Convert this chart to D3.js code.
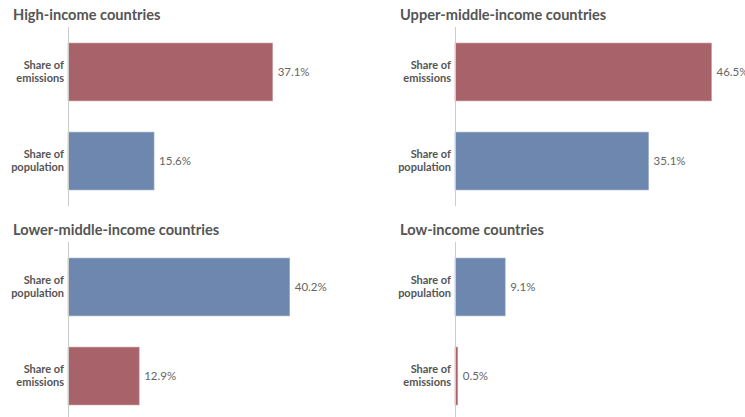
<!DOCTYPE html>
<html><head><meta charset="utf-8">
<script src="https://cdn.jsdelivr.net/npm/d3@7"></script>
<style>
html,body{margin:0;padding:0;background:#fff;}
svg{display:block;font-family:Lato,"Open Sans",sans-serif;}
</style></head>
<body>
<svg id="chart" width="745" height="417"></svg>
<script>
// Data
const panelTitles = ["High-income countries", "Upper-middle-income countries", "Lower-middle-income countries", "Low-income countries"];
const panelCategories = [
  ["Share of emissions", "Share of population"],
  ["Share of emissions", "Share of population"],
  ["Share of population", "Share of emissions"],
  ["Share of population", "Share of emissions"]
];
const emissionsShare = [37.1, 46.5, 12.9, 0.5];
const populationShare = [15.6, 35.1, 40.2, 9.1];

const colors = {"Share of emissions": "#a8636a", "Share of population": "#6d87ae"};
const strokes = {"Share of emissions": "#c99a9f", "Share of population": "#a3b4cc"};

const svg = d3.select("#chart");
const panelX = [0, 387, 0, 387];
const panelY = [0, 0, 215, 215];
const axisOffset = 68;

const x = d3.scaleLinear().domain([0, 46.5]).range([0, 256.5]);
const y = d3.scaleBand().range([27, 206]).paddingInner(0.35).paddingOuter(0.18);

panelTitles.forEach((title, i) => {
  const g = svg.append("g").attr("transform", `translate(${panelX[i]},${panelY[i]})`);
  const cats = panelCategories[i];
  const vals = cats.map(c => c === "Share of emissions" ? emissionsShare[i] : populationShare[i]);
  const yy = y.copy().domain(cats);

  g.append("text").attr("x", 13).attr("y", 20)
    .attr("font-size", 14.6).attr("font-weight", 700).attr("fill", "#555")
    .text(title);

  const plot = g.append("g").attr("transform", `translate(${axisOffset},0)`);

  plot.selectAll("rect").data(cats).join("rect")
    .attr("x", 0)
    .attr("y", d => yy(d))
    .attr("width", (d, j) => x(vals[j]))
    .attr("height", yy.bandwidth())
    .attr("fill", d => colors[d])
    .attr("stroke", d => strokes[d])
    .attr("stroke-width", 0.6);

  plot.append("line")
    .attr("x1", 0.5).attr("x2", 0.5)
    .attr("y1", yy.range()[0]).attr("y2", yy.range()[1])
    .attr("stroke", "#ccc").attr("stroke-width", 1);

  plot.selectAll("text.val").data(cats).join("text")
    .attr("class", "val")
    .attr("x", (d, j) => x(vals[j]) + 5)
    .attr("y", d => yy(d) + yy.bandwidth() / 2)
    .attr("dy", "0.35em")
    .attr("font-size", 11.5).attr("fill", "#666")
    .text((d, j) => vals[j].toFixed(1) + "%");

  cats.forEach(c => {
    const words = c.split(" ");
    const lines = [words[0] + " " + words[1], words[2]];
    const t = plot.append("text")
      .attr("x", -4)
      .attr("y", yy(c) + yy.bandwidth() / 2)
      .attr("text-anchor", "end")
      .attr("font-size", 11).attr("font-weight", 700).attr("fill", "#555");
    lines.forEach((ln, k) => {
      t.append("tspan").attr("x", -4).attr("dy", k === 0 ? "-0.25em" : "1.2em").text(ln);
    });
  });
});
</script>
</body></html>
